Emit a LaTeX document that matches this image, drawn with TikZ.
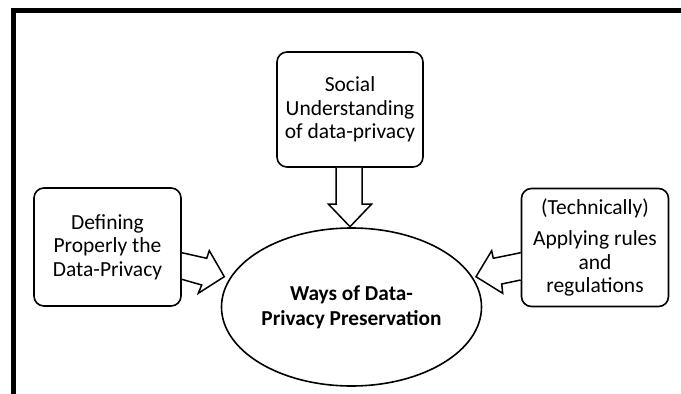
\documentclass[tikz,border=0pt]{standalone}
\usepackage{fontspec}
\setmainfont{Carlito}
\usetikzlibrary{shapes.geometric,calc}
\begin{document}
\begin{tikzpicture}[x=1pt,y=-1pt,
  box/.style={draw,line width=1.6pt,rounded corners=10pt,align=center,inner sep=0pt,
    font=\fontsize{21.5}{23.5}\selectfont},
  blockarrow/.style={draw,line width=1.5pt,fill=white,line join=miter},
  frame/.style={line width=5pt,line join=miter}]
\useasboundingbox (0,0) rectangle (681,394);
\fill[white] (0,0) rectangle (681,394);
\draw[frame] (13.5,394) -- (13.5,10.8) -- (681,10.8);
% nodes
\node[box,minimum width=146pt,minimum height=115pt] (top) at (350,109.5)
  {Social\\Understanding\\of data-privacy};
\node[box,minimum width=147pt,minimum height=118pt] (left) at (107.5,247)
  {Defining\\Properly the\\Data-Privacy};
\node[box,minimum width=147pt,minimum height=118pt] (right) at (595,247.5)
  {(Technically)\\[8pt]Applying rules\\and\\regulations};
\node[draw,ellipse,line width=1.6pt,minimum width=260pt,minimum height=158pt,inner sep=0pt,
  align=center,font=\fontsize{21.3}{25}\selectfont\bfseries] (ell) at (351.5,307)
  {Ways of Data-\\Privacy Preservation};
% block arrows
\draw[blockarrow] ($(top.south)+(-14,0)$) -- (336,204) -- (328.3,204) -- (350,226.7)
  -- (371.7,204) -- (362,204) -- ($(top.south)+(12,0)$);
\draw[blockarrow] ($(left.east)+(0,5.7)$) -- (206.7,258.3) -- (209.3,250.7) -- (224.3,276.7)
  -- (198.3,293.3) -- (201.7,285) -- ($(left.east)+(0,32.3)$);
\draw[blockarrow] ($(right.west)+(0,5.2)$) -- (493.3,258.3) -- (491.7,250.7) -- (476,276.7)
  -- (502.7,293.3) -- (501.7,284) -- ($(right.west)+(0,32.5)$);
\end{tikzpicture}
\end{document}
